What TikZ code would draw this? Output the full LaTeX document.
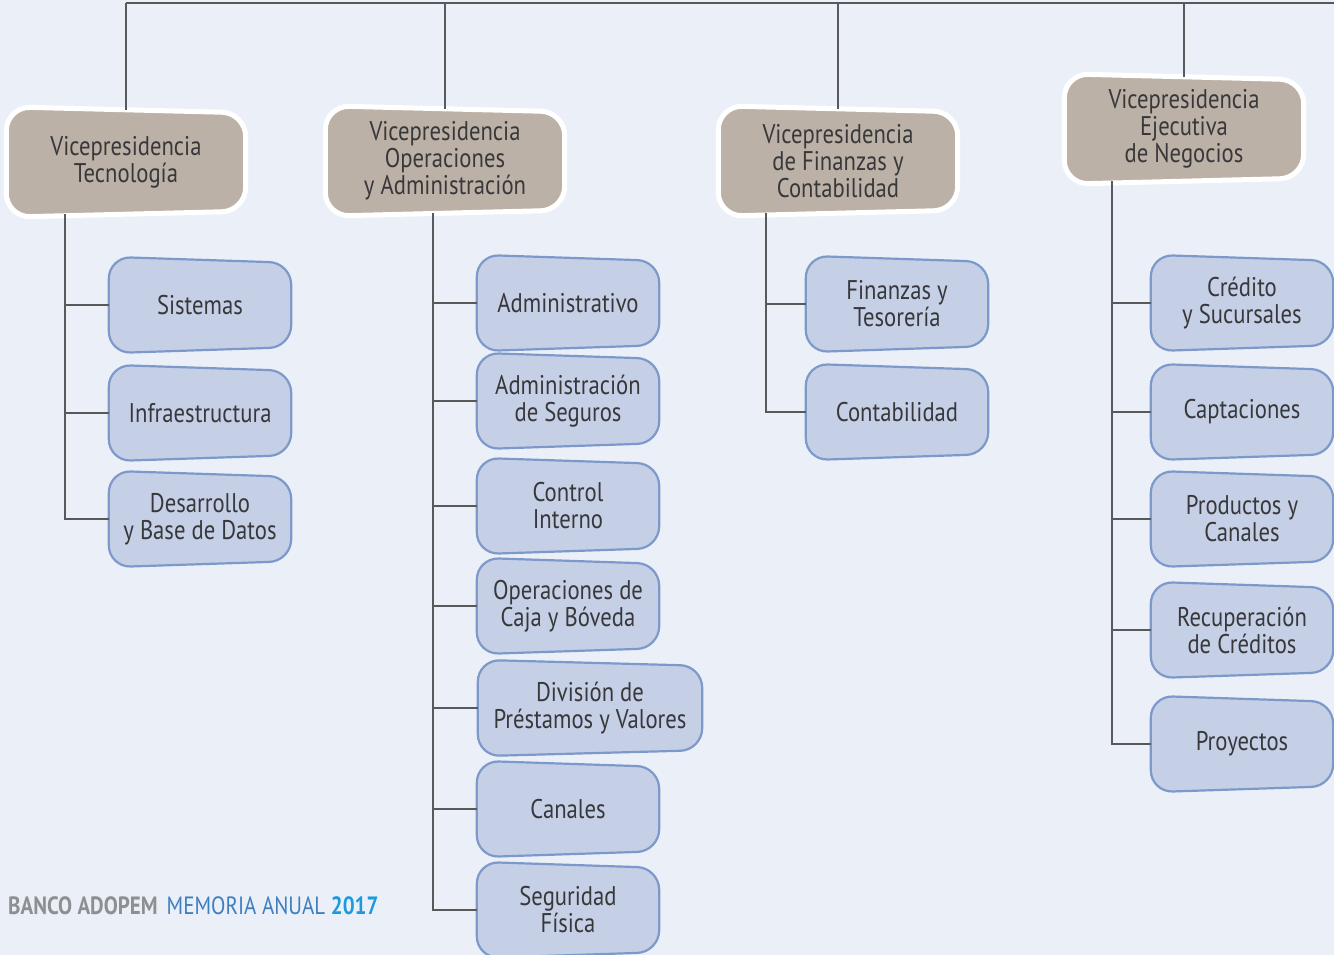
\documentclass[tikz,border=0pt]{standalone}
\usepackage{fontspec}
\setmainfont{PT Sans}[FakeStretch=0.84]
\usetikzlibrary{calc,backgrounds}

\definecolor{pagebg}{HTML}{EBF0F8}
\definecolor{vpfill}{HTML}{BCB1A6}
\definecolor{unitfill}{HTML}{C5CFE6}
\definecolor{unitline}{HTML}{7C99C9}
\definecolor{textgray}{HTML}{38383B}
\definecolor{linkgray}{HTML}{58595B}
\definecolor{footgray}{HTML}{8E8F91}
\definecolor{footblue}{HTML}{3D7EC0}
\definecolor{yearblue}{HTML}{1C9AE0}

% slanted, rounded outline drawn round a node
\newcommand{\wobblebox}[2]{%
	\draw[#2] ($(#1.north west)+(0,-3)$) -- ($(#1.north east)+(0,3)$) -- ($(#1.south east)+(0,-3)$) -- ($(#1.south west)+(0,3)$) -- cycle;}

\begin{document}
\begin{tikzpicture}[x=1pt, y=-1pt,
	vp/.style={minimum width=239pt, minimum height=104pt, align=center, text=textgray, font=\fontsize{27}{27}\selectfont},
	unit/.style={minimum width=182pt, minimum height=90pt, align=center, text=textgray, font=\fontsize{27}{27}\selectfont},
	vpshape/.style={fill=vpfill, draw=white, line width=5pt, rounded corners=24pt},
	unitshape/.style={fill=unitfill, draw=unitline, line width=2.2pt, rounded corners=22pt},
	link/.style={draw=linkgray, line width=1.2pt}]
	\useasboundingbox (0,0) rectangle (1334,955);
	% vice-presidencies
	\node[vp] (tec) at (126,162) {Vicepresidencia\\Tecnología};
	\node[vp] (ope) at (445,161) {Vicepresidencia\\Operaciones\\y Administración};
	\node[vp] (fin) at (838,161) {Vicepresidencia\\de Finanzas y\\Contabilidad};
	\node[vp] (neg) at (1184,129) {Vicepresidencia\\Ejecutiva\\de Negocios};
	% units
	\node[unit] (sis) at (200,305) {Sistemas};
	\node[unit] (inf) at (200,413) {Infraestructura};
	\node[unit] (des) at (200,519) {Desarrollo\\y Base de Datos};
	\node[unit] (adm) at (568,303) {Administrativo};
	\node[unit] (seg) at (568,401) {Administración\\de Seguros};
	\node[unit] (ctr) at (568,506) {Control\\Interno};
	\node[unit] (caj) at (568,606) {Operaciones de\\Caja y Bóveda};
	\node[unit, minimum width=224pt] (div) at (590,708) {División de\\Préstamos y Valores};
	\node[unit] (can) at (568,809) {Canales};
	\node[unit] (fis) at (568,910) {Seguridad\\Física};
	\node[unit] (tes) at (897,304) {Finanzas y\\Tesorería};
	\node[unit] (con) at (897,412) {Contabilidad};
	\node[unit] (cre) at (1242,303) {Crédito\\y Sucursales};
	\node[unit] (cap) at (1242,412) {Captaciones};
	\node[unit] (pro) at (1242,519) {Productos y\\Canales};
	\node[unit] (rec) at (1242,630) {Recuperación\\de Créditos};
	\node[unit] (pry) at (1242,744) {Proyectos};
	% footer
	\node[anchor=west, inner sep=0pt, font=\fontsize{25}{27}\selectfont] (foot) at (8,906)
		{\color{footgray}\bfseries BANCO ADOPEM\hspace{9pt}\mdseries\color{footblue}MEMORIA ANUAL \color{yearblue}\bfseries 2017};
	% outlines
	\begin{scope}[on background layer]
		\fill[pagebg] (0,0) rectangle (1334,955);
		\foreach \n in {tec,ope,fin,neg} {\wobblebox{\n}{vpshape}}
		\foreach \n in {sis,inf,des,adm,seg,ctr,caj,div,can,fis,tes,con,cre,cap,pro,rec,pry} {\wobblebox{\n}{unitshape}}
	\end{scope}
	% lines
	\coordinate (top) at (1334,3);
	\draw[link] (tec.north |- top) -- (top);
	\foreach \n in {tec,ope,fin,neg} \draw[link] (\n.north |- top) -- (\n.north);
	\coordinate (t1) at (65,0);
	\coordinate (t2) at (433,0);
	\coordinate (t3) at (766,0);
	\coordinate (t4) at (1112,0);
	\draw[link] (tec.south -| t1) |- (des.west);
	\foreach \n in {sis,inf} \draw[link] (t1 |- \n.west) -- (\n.west);
	\draw[link] (ope.south -| t2) |- (fis.west);
	\foreach \n in {adm,seg,ctr,caj,div,can} \draw[link] (t2 |- \n.west) -- (\n.west);
	\draw[link] (fin.south -| t3) |- (con.west);
	\draw[link] (t3 |- tes.west) -- (tes.west);
	\draw[link] (neg.south -| t4) |- (pry.west);
	\foreach \n in {cre,cap,pro,rec} \draw[link] (t4 |- \n.west) -- (\n.west);
\end{tikzpicture}
\end{document}
